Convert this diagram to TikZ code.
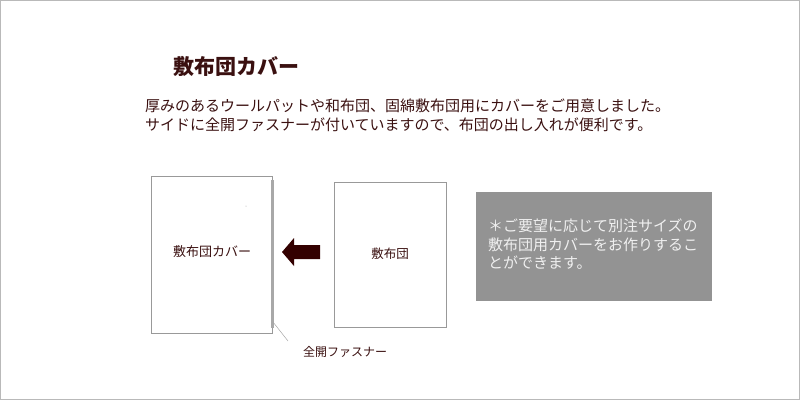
\documentclass[tikz,border=0pt]{standalone}
\usepackage{fontspec}
\newfontfamily\cjk{Noto Sans CJK JP}
\definecolor{brn}{HTML}{3A1010}
\definecolor{arr}{HTML}{330000}
\definecolor{frame}{HTML}{999999}
\definecolor{boxgray}{HTML}{939393}
\definecolor{zipgray}{HTML}{A8A8A8}
\tikzset{
  txt/.style={inner sep=0pt, outer sep=0pt, text=brn, font=\cjk},
  panel/.style={draw=frame, line width=1pt, fill=white},
}
\begin{document}
\begin{tikzpicture}[x=1pt,y=-1pt]
\useasboundingbox (0,0) rectangle (800,400);
\draw[draw=gray!55, line width=1pt] (0.5,0.5) rectangle (799.5,399.5);
% title
\node[txt, anchor=west, font=\cjk\bfseries\fontsize{21}{24}\selectfont] (title) at (173,66) {敷布団カバー};
% paragraph
\node[txt, anchor=west, font=\cjk\fontsize{15}{18}\selectfont] (p1) at (145,106) {厚みのあるウールパットや和布団、固綿敷布団用にカバーをご用意しました。};
\node[txt, anchor=west, font=\cjk\fontsize{15}{18}\selectfont] (p2) at (145,125) {サイドに全開ファスナーが付いていますので、布団の出し入れが便利です。};
% left panel (cover)
\node[panel, minimum width=121pt, minimum height=157pt, inner sep=0pt] (cover) at (211.5,254.5) {};
\fill[zipgray] (270.5,180) rectangle (273.5,328);
\fill[gray!70] (246,206) circle (0.5pt);
\node[txt, font=\cjk\fontsize{13}{15}\selectfont] (coverlbl) at (212,252) {敷布団カバー};
% right panel (futon)
\node[panel, minimum width=112pt, minimum height=145pt, inner sep=0pt] (futon) at (390,254.5) {};
\node[txt, font=\cjk\fontsize{12.5}{15}\selectfont] (futonlbl) at (390,254) {敷布団};
% arrow
\coordinate (atip) at (282,252);
\fill[arr] (atip) -- (294,238) -- (294,245) -- (320,245) -- (320,259) -- (294,259) -- (294,266) -- cycle;
% zipper label
\coordinate (zip) at (273,322);
\coordinate (zipend) at (288,341);
\draw[gray!70, line width=0.5pt] (zip) -- (zipend);
\node[txt, anchor=west, font=\cjk\fontsize{12}{14}\selectfont] (ziplbl) at (303,352) {全開ファスナー};
% gray note box
\fill[boxgray] (476,192) rectangle (712,301);
\node[txt, anchor=north west, text=white!94!black, align=left, font=\cjk\fontsize{15}{18.5}\selectfont] (note) at (488,219) {＊ご要望に応じて別注サイズの\\敷布団用カバーをお作りするこ\\とができます。};
\end{tikzpicture}
\end{document}
